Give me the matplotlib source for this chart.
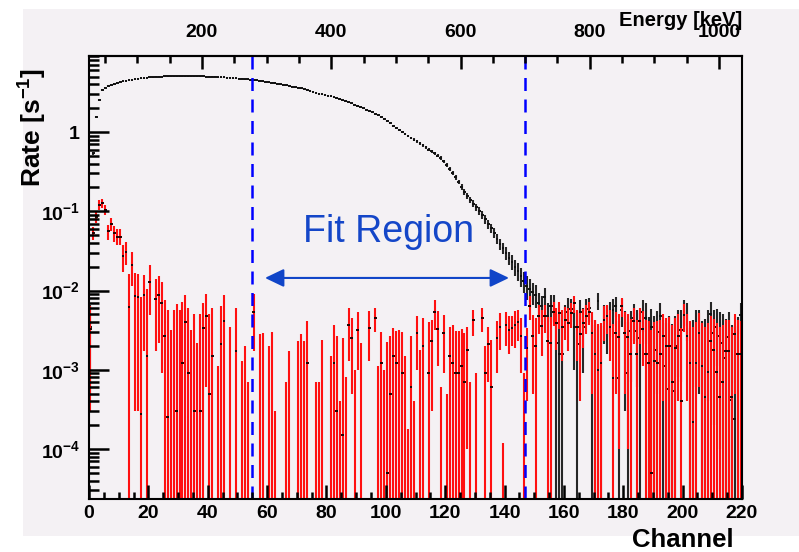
import numpy as np
import matplotlib
matplotlib.use("Agg")
import matplotlib.pyplot as plt
from matplotlib.ticker import FixedLocator, NullLocator, NullFormatter
from matplotlib.patches import Rectangle
from matplotlib.collections import LineCollection

plt.rcParams['font.family'] = ['Liberation Sans', 'DejaVu Sans']
plt.rcParams['font.weight'] = 'bold'
plt.rcParams['mathtext.fontset'] = 'custom'
plt.rcParams['mathtext.rm'] = 'Liberation Sans:bold'
plt.rcParams['mathtext.it'] = 'Liberation Sans:bold'
plt.rcParams['mathtext.bf'] = 'Liberation Sans:bold'

# ---------------------------------------------------------------
# Spectra: rate per channel [1/s] and its error, channels 0..219
# ---------------------------------------------------------------
black_rate = [
    0.0035, 0.54, 1.53, 2.53, 3.39, 3.60, 3.80, 3.92, 4.05, 4.18,
    4.30, 4.38, 4.46, 4.53, 4.59, 4.64, 4.70, 4.75, 4.80, 4.85,
    4.90, 4.92, 4.95, 4.97, 5.00, 5.02, 5.04, 5.05, 5.06, 5.07,
    5.08, 5.08, 5.08, 5.08, 5.07, 5.06, 5.05, 5.04, 5.02, 5.00,
    4.99, 4.97, 4.96, 4.94, 4.91, 4.88, 4.86, 4.83, 4.80, 4.77,
    4.73, 4.70, 4.66, 4.62, 4.58, 4.53, 4.48, 4.43, 4.38, 4.32,
    4.27, 4.21, 4.15, 4.09, 4.02, 3.95, 3.89, 3.82, 3.75, 3.69,
    3.62, 3.55, 3.47, 3.39, 3.30, 3.21, 3.13, 3.06, 3.00, 2.94,
    2.88, 2.82, 2.75, 2.68, 2.60, 2.52, 2.45, 2.37, 2.29, 2.21,
    2.14, 2.06, 1.99, 1.92, 1.85, 1.77, 1.69, 1.62, 1.54, 1.47,
    1.38, 1.29, 1.20, 1.12, 1.05, 0.99, 0.94, 0.89, 0.84, 0.80,
    0.76, 0.72, 0.68, 0.64, 0.60, 0.57, 0.54, 0.505, 0.47, 0.425,
    0.383, 0.343, 0.304, 0.268, 0.234, 0.203, 0.175, 0.156, 0.139, 0.125,
    0.113, 0.101, 0.0897, 0.079, 0.069, 0.061, 0.0532, 0.045, 0.0386, 0.034,
    0.0297, 0.026, 0.0229, 0.020, 0.0176, 0.0152, 0.0132, 0.0114, 0.0105, 0.0095,
    0.0088, 0.0069, 0.0063, 0.0082, 0.0047, 0.0064, 0.0063, 0.0022, 0.0016, 0.0016,
    0.0054, 0.0059, 0.0059, 0.0035, 0.0021, 0.0054, 0.0035, 0.0058, 0.0060, 0.00058,
    0.0012, 0.0074, 0.00046, 0.0043, 0.0040, 0.0049, 0.0057, 0.0064, 0.00078, 0.0057,
    0.0029, 0.0009, 0.0031, 0.0045, 0.0031, 0.0025, 0.0053, 0.0045, 0.0016, 0.0035,
    0.0018, 0.0030, 0.0048, 0.0011, 0.00058, 0.0020, 0.00054, 0.0020, 0.0032, 0.0032,
    0.0056, 0.0046, 0.0001, 0.0013, 0.0031, 0.0031, 0.00117, 0.00125, 0.0030, 0.0050,
    0.0029, 0.0035, 0.0027, 0.0022, 0.0014, 0.0026, 0.00042, 0.00024, 0.0016, 0.0049,
]
black_err = [
    0.003, 0.025, 0.04, 0.05, 0.06, 0.06, 0.062, 0.063, 0.064, 0.065,
    0.066, 0.066, 0.067, 0.067, 0.068, 0.068, 0.069, 0.069, 0.069, 0.07,
    0.07, 0.07, 0.07, 0.07, 0.07, 0.07, 0.07, 0.07, 0.07, 0.07,
    0.07, 0.07, 0.07, 0.07, 0.07, 0.07, 0.07, 0.07, 0.07, 0.07,
    0.07, 0.07, 0.07, 0.07, 0.07, 0.07, 0.07, 0.07, 0.069, 0.069,
    0.069, 0.068, 0.068, 0.068, 0.067, 0.067, 0.066, 0.066, 0.066, 0.065,
    0.065, 0.064, 0.064, 0.063, 0.063, 0.062, 0.062, 0.061, 0.061, 0.06,
    0.06, 0.059, 0.059, 0.058, 0.057, 0.056, 0.055, 0.055, 0.054, 0.054,
    0.053, 0.053, 0.052, 0.051, 0.051, 0.05, 0.049, 0.049, 0.048, 0.047,
    0.046, 0.045, 0.044, 0.044, 0.043, 0.042, 0.041, 0.04, 0.039, 0.038,
    0.037, 0.036, 0.035, 0.034, 0.033, 0.032, 0.031, 0.03, 0.029, 0.029,
    0.028, 0.027, 0.026, 0.026, 0.025, 0.024, 0.024, 0.023, 0.022, 0.021,
    0.02, 0.019, 0.018, 0.017, 0.016, 0.015, 0.014, 0.013, 0.012, 0.012,
    0.011, 0.011, 0.01, 0.0095, 0.009, 0.0085, 0.0075, 0.006, 0.0058, 0.0055,
    0.0052, 0.005, 0.0048, 0.0046, 0.0044, 0.0042, 0.004, 0.0037, 0.0033, 0.003,
    0.0028, 0.0024, 0.0023, 0.0026, 0.0022, 0.0024, 0.0024, 0.0030, 0.0034, 0.0035,
    0.0012, 0.0021, 0.0019, 0.0025, 0.0032, 0.0022, 0.0026, 0.0021, 0.0020, 0.0031,
    0.0030, 0.0018, 0.0031, 0.0022, 0.0024, 0.0023, 0.0021, 0.0018, 0.0033, 0.0022,
    0.0026, 0.0031, 0.0024, 0.0022, 0.0025, 0.0027, 0.0023, 0.0024, 0.0030, 0.0024,
    0.0029, 0.0025, 0.0022, 0.0031, 0.0033, 0.0028, 0.0032, 0.0028, 0.0024, 0.0025,
    0.0020, 0.0023, 0.0033, 0.0030, 0.0025, 0.0026, 0.0030, 0.0031, 0.0026, 0.0022,
    0.0027, 0.0024, 0.0026, 0.0028, 0.0030, 0.0027, 0.0032, 0.0033, 0.0030, 0.0021,
]
red_rate = [
    0.0033, 0.053, 0.085, 0.12, 0.127, 0.105, 0.056, 0.07, 0.053, 0.048,
    0.048, 0.027, 0.031, 0.0062, 0.021, 0.0085, 0.0083, 0.00028, 0.0087, 0.0015,
    0.0129, 0, 0.0079, 0.0087, 0.0069, 0.0027, 0.00025, 0, 0, 0.0003,
    0, 0.0012, 0.004, 0.0009, 0, 0.0003, 0, 0.0003, 0.0034, 0.0048,
    0.0005, 0.0015, 0, 0, 0.0021, 0.0041, 0, 0, 0, 0.0017,
    0, 0, 0, 0, 0, 0.0054, 0, 0, 0, 0,
    0, 0, 0, 0, 0, 0, 0, 0, 0, 0,
    0, 0, 0, 0.0012, 0, 0, 0, 0, 0, 0,
    0, 0, 0.0012, 0.0003, 0, 0.00015, 0, 0.0037, 0.0025, 0,
    0.0032, 0, 0, 0, 0.0034, 0, 0.0045, 0, 0.0012, 0,
    0.00005, 0.0005, 0.0015, 0.0012, 0, 0.0009, 0, 0, 0.0006, 0,
    0.0029, 0, 0.002, 0, 0.0009, 0.0023, 0.0054, 0.0033, 0, 0.0029,
    0, 0.0015, 0.0012, 0.0009, 0.0009, 0.0011, 0.0007, 0.0018, 0, 0.0042,
    0, 0, 0.0045, 0.0009, 0.0021, 0.0006, 0, 0.0025, 0.0035, 0,
    0.0037, 0.0032, 0.0034, 0.0037, 0.004, 0.0027, 0, 0.0019, 0.0064, 0.0027,
    0.002, 0.0047, 0.0036, 0.0047, 0.0023, 0.0022, 0.0054, 0.0039, 0.0052, 0.0035,
    0.0043, 0.0039, 0.0052, 0.0069, 0.0035, 0.0028, 0.0039, 0.0047, 0.0054, 0.0029,
    0.0016, 0.001, 0.0012, 0.0043, 0.0047, 0.0035, 0.00078, 0.0029, 0.0026, 0.0063,
    0.0029, 0.0026, 0.0016, 0.0041, 0.0016, 0.0041, 0.0033, 0.0016, 0.0012, 0.00005,
    0.0013, 0.0012, 0.0016, 0.0027, 0.002, 0.002, 0.0007, 0.0019, 0.0027, 0.0004,
    0.0049, 0.0027, 0.0012, 0.00022, 0.0012, 0.0029, 0.0011, 0.00045, 0.00095, 0.0023,
    0.0018, 0.00095, 0.00045, 0.0007, 0.0017, 0.0017, 0.00045, 0.0028, 0.0016, 0.0016,
]
red_err = [
    0.003, 0.01, 0.013, 0.017, 0.017, 0.016, 0.012, 0.013, 0.012, 0.011,
    0.011, 0.01, 0.01, 0.0098, 0.0095, 0.0082, 0.008, 0.008, 0.007, 0.009,
    0.008, 0, 0.0062, 0.0065, 0.006, 0.0048, 0.0054, 0.0032, 0.0056, 0.0065,
    0.0057, 0.0059, 0.0047, 0.0051, 0.0032, 0.0047, 0.0022, 0.0048, 0.0035, 0.0042,
    0.0046, 0.0045, 0, 0.0011, 0.0043, 0.0048, 0, 0.0035, 0, 0.0043,
    0, 0.0013, 0.002, 0.0007, 0, 0.0037, 0, 0.0028, 0.0029, 0,
    0.002, 0.003, 0.0003, 0, 0, 0, 0.0007, 0.0017, 0, 0,
    0.0023, 0.0028, 0.0023, 0.0029, 0, 0, 0.0007, 0.0007, 0.0024, 0,
    0, 0.0015, 0.0025, 0.0024, 0.0004, 0.0024, 0.0008, 0.0024, 0.002, 0.001,
    0.0022, 0.0022, 0, 0, 0.0021, 0, 0.0015, 0.0011, 0.0018, 0.001,
    0.0022, 0.0022, 0.0019, 0.0019, 0.0032, 0.0021, 0.0015, 0.00018, 0.0021, 0.0004,
    0.0019, 0.0018, 0.0025, 0, 0.0031, 0.002, 0.0022, 0.0022, 0.0006, 0.002,
    0.0005, 0.002, 0.0025, 0.0022, 0.0022, 0.0022, 0.0022, 0.0017, 0.0007, 0.0015,
    0.0009, 0, 0.0015, 0.0011, 0.0014, 0.0018, 0, 0.0016, 0.0017, 0.00012,
    0.0017, 0.0016, 0.0014, 0.0018, 0.0017, 0.0018, 0.0009, 0.0015, 0.0021, 0.0022,
    0.0025, 0.0019, 0.0021, 0.0018, 0.0023, 0.0024, 0.0018, 0.0021, 0.0019, 0.0022,
    0.0019, 0.0022, 0.0018, 0.0017, 0.0022, 0.0024, 0.002, 0.0019, 0.0017, 0.0024,
    0.0026, 0.0028, 0.0027, 0.002, 0.0019, 0.0022, 0.003, 0.0024, 0.0025, 0.0017,
    0.0024, 0.0025, 0.0028, 0.002, 0.0027, 0.002, 0.0022, 0.0027, 0.0029, 0.0031,
    0.0027, 0.0029, 0.0027, 0.0023, 0.0025, 0.0026, 0.003, 0.0026, 0.0023, 0.003,
    0.0019, 0.0023, 0.0029, 0.0032, 0.0028, 0.0023, 0.0028, 0.003, 0.0029, 0.0025,
    0.0026, 0.0029, 0.003, 0.003, 0.0026, 0.0026, 0.003, 0.0023, 0.0026, 0.0025,
]

# fit window in channels and energy calibration (keV = gain*ch + offset)
fit_lo, fit_hi = 55, 147
gain, offset = 4.592, 25.2

y_ticks = [1e-4, 1e-3, 1e-2, 1e-1, 1]
y_ticklabels = ['$10^{-4}$', '$10^{-3}$', '$10^{-2}$', '$10^{-1}$', '1']
x_ticks = list(range(0, 221, 20))
e_ticks = [200, 400, 600, 800, 1000]

BG = '#f4f1f4'
W, H = 799, 552
AXW, AXH = 653.0, 443.0
YMIN, YMAX = 2.34e-5, 9.1
channels = np.arange(len(black_rate))

fig = plt.figure(figsize=(W / 100, H / 100), dpi=100)
fig.patches.append(Rectangle((23 / W, 16 / H), 776 / W, 527 / H,
                             transform=fig.transFigure, facecolor=BG,
                             edgecolor='none', zorder=-10))
ax = fig.add_axes([89 / W, 53 / H, AXW / W, AXH / H])
ax.set_facecolor(BG)
ax.set_yscale('log')
ax.set_xlim(0, 220)
ax.set_ylim(YMIN, YMAX)


def draw_spectrum(rate, err, bar_color, dash_color, z):
    rate = np.asarray(rate, dtype=float)
    err = np.asarray(err, dtype=float)
    x = channels + 0.5
    bar = err > 0
    lo = np.clip(rate - err, 1e-9, None)
    ax.vlines(x[bar], lo[bar], (rate + err)[bar], color=bar_color,
              lw=1.5, zorder=z)
    pt = rate > 0
    ax.hlines(rate[pt], channels[pt] + 0.04, channels[pt] + 0.96,
              color=dash_color, lw=1.4, zorder=z + 0.1)


draw_spectrum(black_rate, black_err, '#262626', '#111111', 2)
draw_spectrum(red_rate, red_err, '#ff1010', '#220000', 2.4)

# fit window markers
for ch in (fit_lo, fit_hi):
    ax.axvline(ch, color='#0000ff', lw=1.8, linestyle=(0, (5.2, 3.4)), zorder=5)

ax.annotate('', xy=(0.2695, 0.499), xytext=(0.6432, 0.499),
            xycoords='axes fraction', textcoords='axes fraction',
            arrowprops=dict(arrowstyle='<|-|>,head_length=1.15,head_width=0.55',
                            mutation_scale=10, color='#1045c8', lw=1.5,
                            shrinkA=0, shrinkB=0), zorder=6)
fig.text(303 / W, 1 - 242 / H, 'Fit Region', fontsize=27, fontweight='normal',
         color='#1446c8', ha='left', va='baseline')

# frame and tick labels
for side in ('left', 'bottom', 'top', 'right'):
    ax.spines[side].set_linewidth(1.5)
    ax.spines[side].set_zorder(6)
ax.yaxis.set_major_locator(FixedLocator(y_ticks))
ax.set_yticklabels(y_ticklabels)
ax.yaxis.set_minor_locator(NullLocator())
ax.yaxis.set_minor_formatter(NullFormatter())
ax.xaxis.set_major_locator(FixedLocator(x_ticks))
ax.xaxis.set_minor_locator(NullLocator())
ax.tick_params(axis='y', length=0, labelsize=14, pad=6.5)
ax.tick_params(axis='x', length=0, labelsize=14, pad=4)

sec = ax.secondary_xaxis('top', functions=(lambda c: c * gain + offset,
                                           lambda e: (e - offset) / gain))
sec.xaxis.set_major_locator(FixedLocator(e_ticks))
sec.xaxis.set_minor_locator(NullLocator())
sec.tick_params(length=0, labelsize=14, pad=11)
sec.spines['top'].set_linewidth(1.5)

# tick marks drawn inward from the frame (lengths in pixels)
ytr = ax.get_yaxis_transform()
xtr = ax.get_xaxis_transform()
segs_y, segs_x = [], []
for k in range(-5, 1):
    for m in range(1, 10):
        v = m * 10.0 ** k
        if YMIN < v < YMAX:
            ln = 20 if m == 1 else 10
            segs_y.append([(0, v), (ln / AXW, v)])
for c in range(0, 221, 5):
    ln = 14 if c % 20 == 0 else 7
    segs_x.append([(c, 0), (c, ln / AXH)])
for e in range(50, 1001, 50):
    c = (e - offset) / gain
    if 0 < c < 220:
        ln = 13 if e % 200 == 0 else 7
        segs_x.append([(c, 1), (c, 1 - ln / AXH)])
ax.add_collection(LineCollection(segs_y, transform=ytr, colors='black',
                                 linewidths=1.8, zorder=6, clip_on=False))
ax.add_collection(LineCollection(segs_x, transform=xtr, colors='black',
                                 linewidths=1.8, zorder=6, clip_on=False))

fig.text(742 / W, 1 - 26 / H, 'Energy [keV]', fontsize=14.5, ha='right',
         va='baseline')
fig.text(734 / W, 1 - 547 / H, 'Channel', fontsize=18.5, ha='right',
         va='baseline')
fig.text(33 / W, 1 - 68 / H, 'Rate [s$^{-1}$]', fontsize=19, rotation=90,
         ha='center', va='top')

fig.savefig('out.png', dpi=100)
